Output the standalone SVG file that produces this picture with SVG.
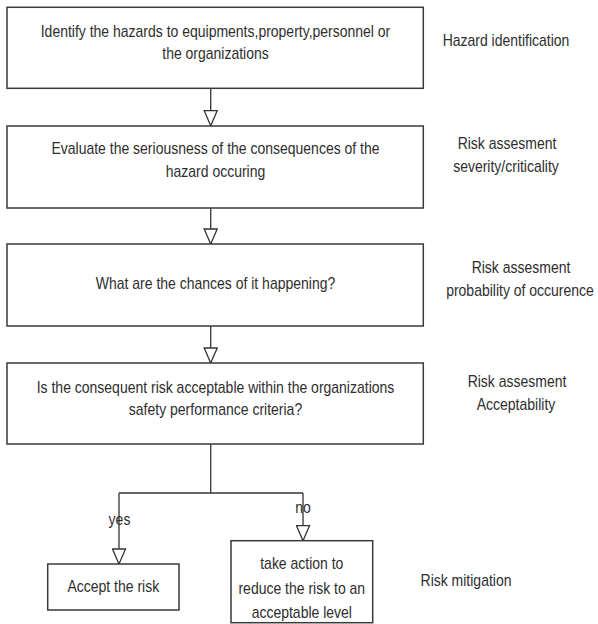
<svg xmlns="http://www.w3.org/2000/svg" width="598" height="624" viewBox="0 0 598 624">
<style>
.box{fill:#fff;stroke:#3a3a3a;stroke-width:1.5}
.t{font-family:"Liberation Sans",Arial,sans-serif;font-size:16px;fill:#2e2e2e;text-anchor:middle}
.c{fill:none;stroke:#333;stroke-width:1.3}
</style>
<defs>
<marker id="ah" markerUnits="userSpaceOnUse" markerWidth="17" markerHeight="15" viewBox="-1 -1 17 15" refX="15" refY="6.5" orient="auto">
<path d="M0,0 L15,6.5 L0,13 Z" fill="#fff" stroke="#333" stroke-width="1.3"/>
</marker>
</defs>
<rect width="598" height="624" fill="#fff"/>
<g id="connectors">
<line class="c" x1="210.7" y1="88.3" x2="210.7" y2="125.7" marker-end="url(#ah)"/>
<line class="c" x1="210.7" y1="208" x2="210.7" y2="244" marker-end="url(#ah)"/>
<line class="c" x1="210.7" y1="326" x2="210.7" y2="363" marker-end="url(#ah)"/>
<polyline class="c" points="210.7,444 210.7,493"/>
<polyline class="c" points="119,493 303,493"/>
<line class="c" x1="119" y1="493" x2="119" y2="564" marker-end="url(#ah)"/>
<line class="c" x1="303" y1="493" x2="303" y2="540.7" marker-end="url(#ah)"/>
<text class="t" transform="translate(119.5 525) scale(0.875 1)">yes</text>
<text class="t" transform="translate(303 513) scale(0.875 1)">no</text>
</g>
<g id="n1">
<rect class="box" x="7" y="7.3" width="416.3" height="81"/>
<text class="t" transform="translate(215.5 36.5) scale(0.875 1)">Identify the hazards to equipments,property,personnel or</text>
<text class="t" transform="translate(215.5 58.5) scale(0.875 1)">the organizations</text>
</g>
<g id="n2">
<rect class="box" x="7" y="126" width="416.3" height="82"/>
<text class="t" transform="translate(215.5 153.5) scale(0.875 1)">Evaluate the seriousness of the consequences of the</text>
<text class="t" transform="translate(215.5 176.5) scale(0.875 1)">hazard occuring</text>
</g>
<g id="n3">
<rect class="box" x="7" y="244" width="416.3" height="82"/>
<text class="t" transform="translate(215.5 288.5) scale(0.875 1)">What are the chances of it happening?</text>
</g>
<g id="n4">
<rect class="box" x="7" y="363" width="416.3" height="81"/>
<text class="t" transform="translate(215.5 392.5) scale(0.875 1)">Is the consequent risk acceptable within the organizations</text>
<text class="t" transform="translate(215.5 415) scale(0.875 1)">safety performance criteria?</text>
</g>
<g id="n5">
<rect class="box" x="47.7" y="564" width="131.3" height="46"/>
<text class="t" transform="translate(113.3 592) scale(0.875 1)">Accept the risk</text>
</g>
<g id="n6">
<rect class="box" x="231" y="540.7" width="141.7" height="82"/>
<text class="t" transform="translate(301.8 569) scale(0.875 1)">take action to</text>
<text class="t" transform="translate(301.8 594) scale(0.875 1)">reduce the risk to an</text>
<text class="t" transform="translate(301.8 618) scale(0.875 1)">acceptable level</text>
</g>
<g id="labels">
<text class="t" transform="translate(506 46) scale(0.875 1)">Hazard identification</text>
<text class="t" transform="translate(507 149) scale(0.875 1)">Risk assesment</text>
<text class="t" transform="translate(506 172) scale(0.875 1)">severity/criticality</text>
<text class="t" transform="translate(521 273) scale(0.875 1)">Risk assesment</text>
<text class="t" transform="translate(520 296) scale(0.875 1)">probability of occurence</text>
<text class="t" transform="translate(517 386.5) scale(0.875 1)">Risk assesment</text>
<text class="t" transform="translate(516 410) scale(0.875 1)">Acceptability</text>
<text class="t" transform="translate(466 586) scale(0.875 1)">Risk mitigation</text>
</g>
</svg>
